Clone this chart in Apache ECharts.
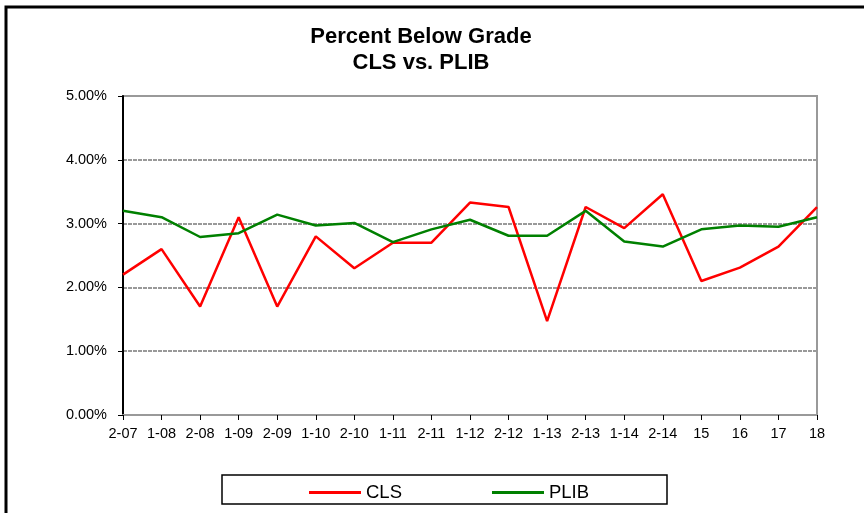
<!DOCTYPE html>
<html lang="en">
<head>
    <meta charset="UTF-8">
    <title>Percent Below Grade</title>
    <script src="https://cdn.jsdelivr.net/npm/echarts@6/dist/echarts.min.js"></script>
    <style>
        html, body { margin: 0; padding: 0; background: #fff; }
        #main { width: 864px; height: 513px; }
    </style>
</head>
<body>
<div id="main"></div>
<script type="text/javascript">
    // semesters on the x axis
    var categories = ['2-07', '1-08', '2-08', '1-09', '2-09', '1-10', '2-10', '1-11', '2-11', '1-12',
        '2-12', '1-13', '2-13', '1-14', '2-14', '15', '16', '17', '18'];

    // percent below grade
    var clsValues = [2.20, 2.60, 1.70, 3.10, 1.70, 2.80, 2.30, 2.70, 2.70, 3.33,
        3.26, 1.47, 3.26, 2.93, 3.46, 2.10, 2.31, 2.64, 3.26];
    var plibValues = [3.20, 3.10, 2.79, 2.85, 3.14, 2.97, 3.01, 2.71, 2.91, 3.06,
        2.81, 2.81, 3.20, 2.72, 2.64, 2.91, 2.97, 2.95, 3.10];

    var font = '"Liberation Sans", Arial, sans-serif';

    var myChart = echarts.init(document.getElementById('main'));

    myChart.setOption({
        animation: false,
        color: ['#ff0000', '#008000'],
        title: {
            text: 'Percent Below Grade\nCLS vs. PLIB',
            left: 421,
            top: 24,
            padding: 0,
            textAlign: 'center',
            textStyle: {
                fontFamily: font,
                fontSize: 22,
                fontWeight: 'bold',
                color: '#000',
                lineHeight: 26
            }
        },
        legend: {
            data: ['CLS', 'PLIB'],
            left: 304,
            top: 478,
            icon: 'rect',
            itemWidth: 52,
            itemHeight: 3,
            itemGap: 90,
            textStyle: { fontFamily: font, fontSize: 18.5, color: '#000' }
        },
        grid: {
            left: 123,
            right: 47,
            top: 96,
            bottom: 98,
            show: true,
            borderColor: '#999',
            borderWidth: 2
        },
        xAxis: {
            type: 'category',
            data: categories,
            boundaryGap: false,
            axisLine: { lineStyle: { color: '#999', width: 2 } },
            axisTick: { alignWithLabel: true, length: 5, lineStyle: { color: '#000' } },
            axisLabel: { fontFamily: font, fontSize: 14.5, color: '#000', margin: 11, interval: 0 }
        },
        yAxis: {
            type: 'value',
            min: 0,
            max: 5,
            interval: 1,
            axisLine: { show: true, lineStyle: { color: '#000', width: 2 } },
            axisTick: { show: true, length: 5, lineStyle: { color: '#000' } },
            axisLabel: {
                fontFamily: font, fontSize: 14.5, color: '#000', margin: 16,
                formatter: function (v) { return v.toFixed(2) + '%'; }
            },
            splitLine: { lineStyle: { color: '#999', width: 2, type: [4, 1] } }
        },
        series: [{
            name: 'CLS', type: 'line', data: clsValues,
            symbol: 'none', lineStyle: { width: 2.5 }
        }, {
            name: 'PLIB', type: 'line', data: plibValues,
            symbol: 'none', lineStyle: { width: 2.5 }
        }],
        graphic: [{
            // outer chart frame (runs off the right and bottom edges)
            type: 'rect',
            shape: { x: 6, y: 7, width: 900, height: 560 },
            style: { fill: null, stroke: '#000', lineWidth: 3 }
        }, {
            // legend box
            type: 'rect',
            shape: { x: 222, y: 475, width: 445, height: 29 },
            style: { fill: null, stroke: '#000', lineWidth: 1.5 }
        }]
    });
</script>
</body>
</html>
